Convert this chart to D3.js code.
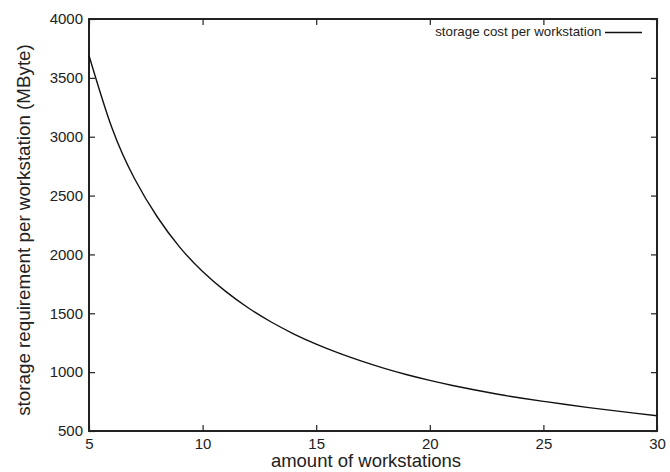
<!DOCTYPE html>
<html>
<head>
<meta charset="utf-8">
<script src="https://cdn.jsdelivr.net/npm/d3@7"></script>
<style>
  body { margin: 0; background: #fff; }
  text { font-family: "Liberation Sans", Arial, sans-serif; fill: #222; }
</style>
</head>
<body>
<script>
"use strict";

// values
var workstations = [5, 6, 7, 8, 9, 10, 11, 12, 13, 14, 15, 16, 17, 18, 19, 20,
	21, 22, 23, 24, 25, 26, 27, 28, 29, 30];
var storageMB = [3690, 3080, 2645, 2320, 2060, 1855, 1688, 1547, 1428, 1326, 1238, 1161,
	1093, 1032, 978, 930, 887, 848, 812, 780, 752, 725, 699, 675, 652, 630];
var xTicks = [5, 10, 15, 20, 25, 30];
var yTicks = [500, 1000, 1500, 2000, 2500, 3000, 3500, 4000];
var seriesName = "storage cost per workstation";

var width = 670, height = 472;
var margin = {top: 19, right: 13, bottom: 41, left: 89};
var w = width - margin.left - margin.right;
var h = height - margin.top - margin.bottom;

var svg = d3.select("body").append("svg")
	.attr("width", width)
	.attr("height", height);
var g = svg.append("g")
	.attr("transform", "translate(" + margin.left + "," + margin.top + ")");

var x = d3.scaleLinear().domain([5, 30]).range([0, w]);
var y = d3.scaleLinear().domain([500, 4000]).range([h, 0]);
var fmt = d3.format("d");

// axes, ticks pointing inward on every side
function styleAxis(sel) {
	sel.select(".domain").remove();
	sel.selectAll(".tick line").attr("stroke", "#222").attr("stroke-width", 1.2);
	sel.selectAll(".tick text").style("font-size", "15px").attr("fill", "#222");
}
g.append("g")
	.attr("transform", "translate(0," + h + ")")
	.call(d3.axisBottom(x).tickValues(xTicks).tickFormat(fmt).tickSize(-6).tickPadding(7))
	.call(styleAxis);
g.append("g")
	.call(d3.axisTop(x).tickValues(xTicks).tickSize(-6).tickFormat(""))
	.call(styleAxis);
g.append("g")
	.call(d3.axisLeft(y).tickValues(yTicks).tickFormat(fmt).tickSize(-6).tickPadding(6))
	.call(styleAxis);
g.append("g")
	.attr("transform", "translate(" + w + ",0)")
	.call(d3.axisRight(y).tickValues(yTicks).tickSize(-6).tickFormat(""))
	.call(styleAxis);

g.append("rect")
	.attr("width", w).attr("height", h)
	.attr("fill", "none").attr("stroke", "#222").attr("stroke-width", 2);

// the curve
var line = d3.line()
	.x(function(d, i) { return x(workstations[i]); })
	.y(function(d) { return y(d); })
	.curve(d3.curveNatural);
g.append("path")
	.datum(storageMB)
	.attr("fill", "none")
	.attr("stroke", "#111")
	.attr("stroke-width", 1.4)
	.attr("d", line);

// legend
g.append("text")
	.attr("x", w - 55.5).attr("y", 17)
	.attr("text-anchor", "end")
	.style("font-size", "13.3px")
	.text(seriesName);
g.append("line")
	.attr("x1", w - 52).attr("x2", w - 15)
	.attr("y1", 13.5).attr("y2", 13.5)
	.attr("stroke", "#111").attr("stroke-width", 1.4);

// axis titles
svg.append("text")
	.attr("x", 366).attr("y", 467)
	.attr("text-anchor", "middle")
	.style("font-size", "18.5px")
	.text("amount of workstations");
svg.append("text")
	.attr("transform", "translate(30,230) rotate(-90)")
	.attr("text-anchor", "middle")
	.style("font-size", "18.8px")
	.text("storage requirement per workstation (MByte)");
</script>
</body>
</html>
